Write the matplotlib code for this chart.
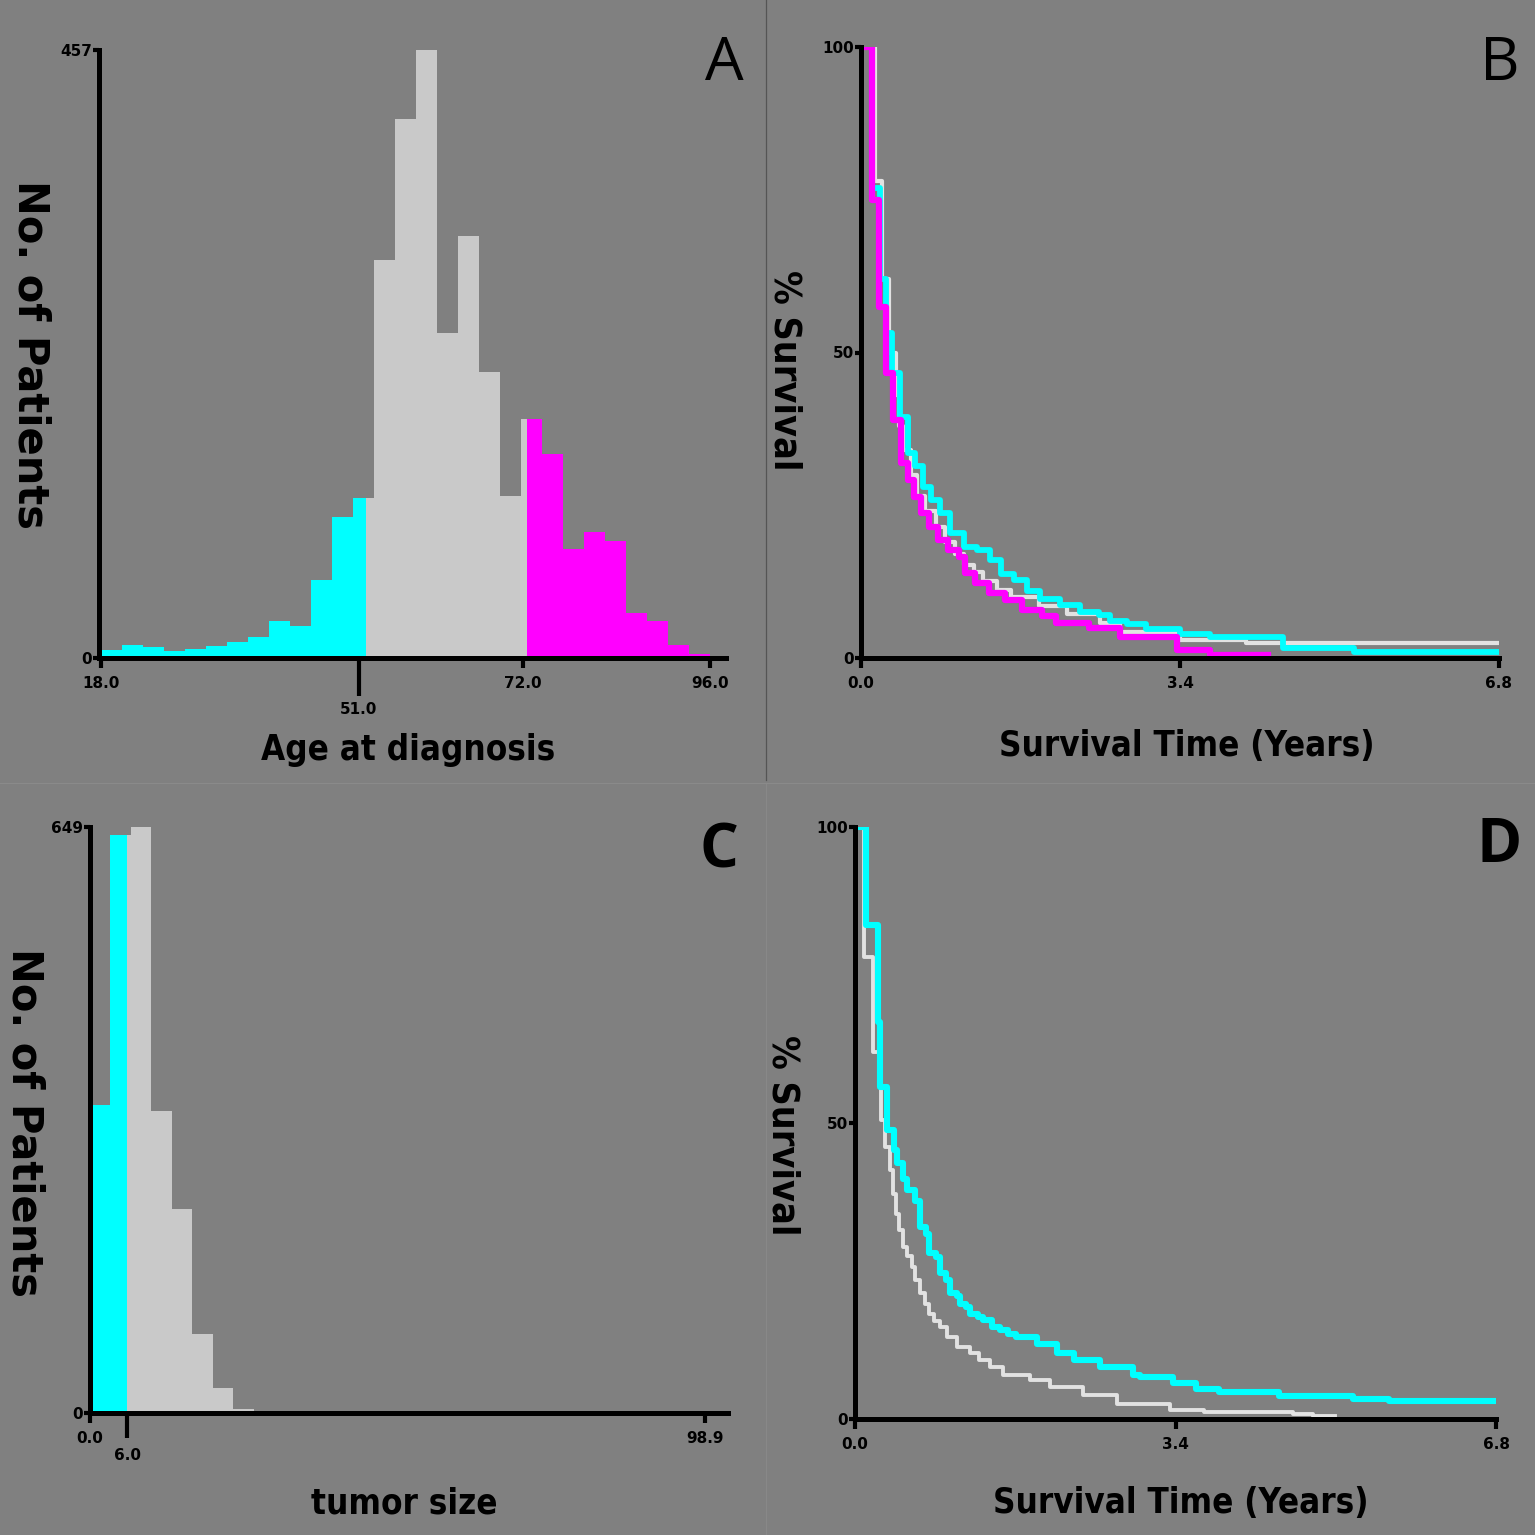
import numpy as np
import matplotlib
matplotlib.use('Agg')
import matplotlib.pyplot as plt
from matplotlib.lines import Line2D
from matplotlib import font_manager

# panel A: age histogram (29 bins from 18 to 96)
age_edges = np.linspace(18, 96, 30)
age_counts = [6, 10, 8, 5, 7, 9, 12, 16, 28, 24, 59, 106, 120, 299, 405, 457,
              244, 317, 215, 122, 180, 153, 82, 95, 88, 34, 28, 10, 3]
age_splits = [51.9, 72.6]

# panel C: tumor size histogram (30 bins from 0 to 98.9)
size_edges = np.linspace(0, 98.9, 31)
size_counts = [341, 640, 649, 335, 226, 87, 28, 4, 2, 2, 1, 0, 0, 0, 0,
               0, 0, 0, 0, 0, 0, 0, 0, 0, 0, 0, 0, 0, 0, 1]
size_splits = [6.0]

# panel B: survival by age group
b_grey_t = [0, 0.15, 0.22, 0.30, 0.37, 0.41, 0.45, 0.53, 0.60, 0.68, 0.80, 0.90, 1.0,
            1.1, 1.2, 1.3, 1.45, 1.6, 1.9, 2.2, 2.55, 2.76, 3.4, 4.1, 6.8]
b_grey_s = [100, 78, 62, 50, 43, 38, 34, 30, 26.5, 24, 21.5, 19, 17,
            15.3, 14, 12.6, 11.2, 10, 8.5, 7.2, 5.7, 4.3, 2.9, 2.4, 2.4]
b_cyan_t = [0, 0.12, 0.20, 0.27, 0.33, 0.42, 0.50, 0.58, 0.66, 0.75, 0.84, 0.95, 1.10,
            1.24, 1.38, 1.49, 1.63, 1.77, 1.91, 2.12, 2.33, 2.54, 2.65, 2.83, 3.04,
            3.4, 3.72, 4.5, 5.25, 6.8]
b_cyan_s = [100, 77, 62, 53.2, 46.6, 39.4, 33.5, 31.4, 28.0, 25.9, 23.7, 20.4, 18.2,
            17.7, 16.0, 13.8, 12.7, 11.0, 9.6, 8.7, 7.6, 7.1, 6.0, 5.5, 4.7,
            4.0, 3.5, 1.6, 1.0, 1.0]
b_mag_t = [0, 0.12, 0.19, 0.27, 0.34, 0.43, 0.50, 0.57, 0.64, 0.73, 0.82, 0.93, 1.04,
           1.11, 1.21, 1.36, 1.54, 1.72, 1.93, 2.08, 2.43, 2.76, 3.37, 3.72, 4.34]
b_mag_s = [100, 75, 57.5, 46.6, 39, 31.9, 29.1, 26.4, 23.7, 21.5, 19.3, 17.7, 16.6,
           13.9, 12.2, 10.6, 9.5, 7.9, 6.8, 5.7, 4.9, 3.5, 1.3, 0.5, 0.5]

# panel D: survival by tumor size group
d_grey_t = [0, 0.10, 0.19, 0.28, 0.32, 0.37, 0.40, 0.44, 0.47, 0.51, 0.55, 0.60, 0.64,
            0.69, 0.74, 0.79, 0.84, 0.90, 0.98, 1.08, 1.22, 1.32, 1.43, 1.57, 1.86,
            2.07, 2.42, 2.78, 3.34, 3.70, 4.65, 4.86, 5.09]
d_grey_s = [100, 78, 62, 50.5, 46, 42.1, 38, 34.7, 32, 29.1, 27.5, 25.7, 23.5,
            21.2, 19.5, 17.8, 16.5, 15.5, 13.8, 12.2, 11.1, 9.9, 8.8, 7.4, 6.6,
            5.4, 4.1, 2.5, 1.6, 1.2, 0.9, 0.5, 0.5]
d_cyan_t = [0, 0.12, 0.24, 0.27, 0.34, 0.41, 0.45, 0.51, 0.55, 0.64, 0.69, 0.75, 0.79,
            0.86, 0.90, 0.97, 1.01, 1.08, 1.11, 1.18, 1.22, 1.30, 1.36, 1.45, 1.54,
            1.62, 1.71, 1.93, 2.14, 2.32, 2.60, 2.95, 3.02, 3.37, 3.62, 3.86, 4.5,
            5.28, 5.67, 6.8]
d_cyan_s = [100, 83.5, 67, 56, 48.8, 45.5, 43.2, 40.5, 38.7, 36.9, 32.5, 31.3, 28.0,
            27.4, 24.6, 23.5, 21.2, 20.7, 19.5, 19.0, 17.8, 17.3, 16.7, 15.6, 15.0,
            14.4, 13.9, 12.7, 11.1, 9.9, 8.8, 7.4, 7.1, 6.0, 5.0, 4.6, 3.9,
            3.3, 3.0, 3.0]

BG = '#808080'
CYAN = '#00ffff'
MAG = '#ff00ff'
LGREY = '#c9c9c9'
WGREY = '#e2e2e2'
FONT = ['DejaVu Sans']

# use a condensed bold face for the axis titles when one is installed
_fp = font_manager.FontProperties(family='DejaVu Sans', weight='bold', stretch='condensed')
HAS_COND = 'ondensed' in font_manager.findfont(_fp, fallback_to_default=True)
if HAS_COND:
    TFAM, TSTRETCH, TSCALE = ['DejaVu Sans'], 'condensed', 1.0
else:
    TFAM, TSTRETCH, TSCALE = ['Liberation Sans', 'DejaVu Sans'], 'normal', 0.97

W = 1535.0
fig = plt.figure(figsize=(15.35, 15.35), dpi=100)
fig.patch.set_facecolor(BG)


def box(l, r, b, t):
    # pixel box -> figure fraction
    return [l / W, 1 - b / W, (r - l) / W, (b - t) / W]


def style(ax):
    ax.set_facecolor(BG)
    for s in ['top', 'right']:
        ax.spines[s].set_visible(False)
    for s in ['left', 'bottom']:
        ax.spines[s].set_linewidth(3.6)
        ax.spines[s].set_color('black')
        ax.spines[s].set_capstyle('projecting')
    ax.tick_params(which='both', width=3, color='black', labelsize=11)
    ax.tick_params(axis='x', which='major', length=7, pad=6)
    ax.tick_params(axis='y', which='major', length=4, pad=1)
    for lab in ax.get_xticklabels(which='both') + ax.get_yticklabels():
        lab.set_fontfamily(FONT)
        lab.set_fontweight('bold')


def split_bars(ax, edges, counts, splits, colors):
    bounds = [edges[0]] + list(splits) + [edges[-1]]
    for lo_c, hi_c, col in zip(bounds[:-1], bounds[1:], colors):
        for l, r, c in zip(edges[:-1], edges[1:], counts):
            a, b = max(l, lo_c), min(r, hi_c)
            if b > a and c > 0:
                ax.bar(a, c, width=b - a, align='edge', color=col, linewidth=0)


# ---- A
axA = fig.add_axes(box(99, 726, 658, 50))
split_bars(axA, age_edges, age_counts, age_splits, [CYAN, LGREY, MAG])
axA.set_xlim(17.8, 98)
axA.set_ylim(0, 457)
axA.set_yticks([0, 457])
axA.set_xticks([18, 72, 96])
axA.set_xticklabels(['18.0', '72.0', '96.0'])
axA.set_xticks([51], ['51.0'], minor=True)
style(axA)
axA.tick_params(axis='x', which='minor', length=27, width=3, pad=5)

# ---- B
axB = fig.add_axes(box(861, 1499, 658, 47))
axB.step(b_grey_t, b_grey_s, where='post', color=WGREY, lw=3.0)
axB.step(b_cyan_t, b_cyan_s, where='post', color=CYAN, lw=4.2)
axB.step(b_mag_t, b_mag_s, where='post', color=MAG, lw=4.5)
axB.set_xlim(0, 6.8)
axB.set_ylim(0, 100)
axB.set_yticks([0, 50, 100])
axB.set_xticks([0, 3.4, 6.8])
axB.set_xticklabels(['0.0', '3.4', '6.8'])
style(axB)

# ---- C
axC = fig.add_axes(box(90, 728, 1413, 827))
split_bars(axC, size_edges, size_counts, size_splits, [CYAN, LGREY])
axC.set_xlim(0, 102.6)
axC.set_ylim(0, 649)
axC.set_yticks([0, 649])
axC.set_xticks([0, 98.9])
axC.set_xticklabels(['0.0', '98.9'])
axC.set_xticks([6.0], ['6.0'], minor=True)
style(axC)
axC.tick_params(axis='x', which='minor', length=18, width=3, pad=7)

# ---- D
axD = fig.add_axes(box(855, 1496, 1419, 827))
axD.step(d_grey_t, d_grey_s, where='post', color=WGREY, lw=2.8)
axD.step(d_cyan_t, d_cyan_s, where='post', color=CYAN, lw=4.4)
axD.set_xlim(0, 6.8)
axD.set_ylim(0, 100)
axD.set_yticks([0, 50, 100])
axD.set_xticks([0, 3.4, 6.8])
axD.set_xticklabels(['0.0', '3.4', '6.8'])
style(axD)


def ftext(x, y, s, size, rot=0, weight='bold', family=FONT, stretch='normal'):
    fig.text(x / W, 1 - y / W, s, fontsize=size, rotation=rot, ha='center',
             va='center', fontweight=weight, family=family, fontstretch=stretch,
             color='black')


# axis titles
ftext(30, 355, 'No. of Patients', 30, rot=270)
ftext(24, 1123, 'No. of Patients', 30, rot=270)
ftext(785, 370, '% Survival', 27 * TSCALE, rot=270, family=TFAM, stretch=TSTRETCH)
ftext(782, 1135, '% Survival', 27 * TSCALE, rot=270, family=TFAM, stretch=TSTRETCH)
ftext(408, 750, 'Age at diagnosis', 25 * TSCALE, family=TFAM, stretch=TSTRETCH)
ftext(1187, 746, 'Survival Time (Years)', 25 * TSCALE, family=TFAM, stretch=TSTRETCH)
ftext(404, 1503, 'tumor size', 25 * TSCALE, family=TFAM, stretch=TSTRETCH)
ftext(1181, 1503, 'Survival Time (Years)', 25 * TSCALE, family=TFAM, stretch=TSTRETCH)

# panel letters
LET = ['Open Sans', 'DejaVu Sans']
ftext(724, 64, 'A', 44, weight='normal', family=LET)
ftext(1500, 64, 'B', 44, weight='normal', family=LET)
ftext(719, 852, 'C', 44, weight='bold', family=LET)
ftext(1499, 847, 'D', 44, weight='bold', family=LET)

# panel dividers
fig.add_artist(Line2D([766 / W, 766 / W], [1, 1 - 780 / W], color='#555555', lw=0.9))
fig.add_artist(Line2D([766 / W, 766 / W], [1 - 784 / W, 0], color='#888888', lw=0.8))
fig.add_artist(Line2D([0, 1], [1 - 783 / W, 1 - 783 / W], color='#8a8a8a', lw=0.8))

fig.savefig('out.png', dpi=100, facecolor=BG)
